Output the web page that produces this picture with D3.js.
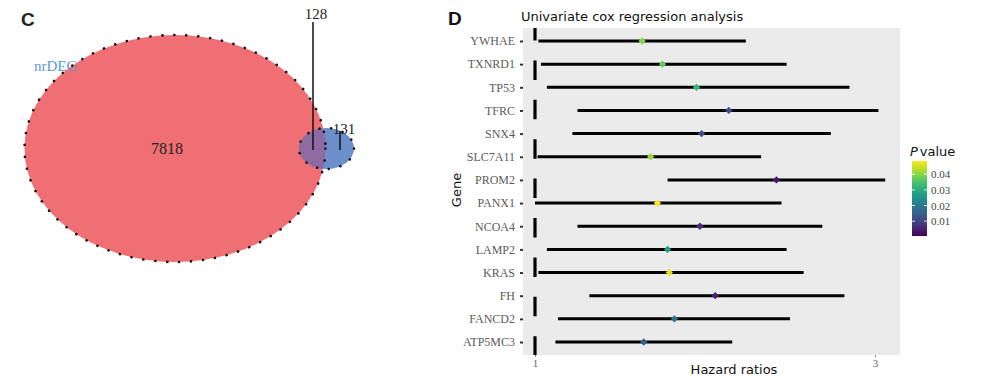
<!DOCTYPE html>
<html><head><meta charset="utf-8">
<script src="https://cdn.jsdelivr.net/npm/d3@7"></script>
<style>body{margin:0;background:#fff;} svg{display:block;}</style>
</head><body>
<svg id="c" width="994" height="387"></svg>
<script>
// ---------- data ----------
const genes = ["YWHAE","TXNRD1","TP53","TFRC","SNX4","SLC7A11","PROM2","PANX1","NCOA4","LAMP2","KRAS","FH","FANCD2","ATP5MC3"];
const hr    = [1.63,1.75,1.95,2.14,1.98,1.68,2.42,1.72,1.97,1.78,1.79,2.06,1.82,1.64];
const lower = [1.02,1.035,1.07,1.25,1.22,1.015,1.78,1.0,1.25,1.07,1.02,1.32,1.135,1.12];
const upper = [2.24,2.48,2.85,3.02,2.74,2.33,3.06,2.45,2.69,2.48,2.58,2.82,2.5,2.16];
const pval  = [0.040,0.037,0.032,0.012,0.012,0.041,0.003,0.048,0.007,0.027,0.046,0.005,0.019,0.015];
const xTicks = [1,3];
const legendTicks = [0.01,0.02,0.03,0.04];
const vennCounts = {left:7818, inter:128, right:131};
const vennLabel = "nrDEG";

const svg = d3.select("#c");
const serif = "'Liberation Serif','Times New Roman',serif";
const sans = "'DejaVu Sans',sans-serif";

// ---------- Panel C: Venn ----------
svg.append("text").attr("x",21).attr("y",26).attr("font-family","'Liberation Sans',Arial,sans-serif")
  .attr("font-weight","bold").attr("font-size",19).attr("fill","#222").text("C");

const big = {cx:175, cy:148.5, rx:150.5, ry:113.5};
const small = {cx:326.5, cy:148.5, rx:27.5, ry:20.5};
const defs = svg.append("defs");
defs.append("clipPath").attr("id","bigclip").append("ellipse")
  .attr("cx",big.cx).attr("cy",big.cy).attr("rx",big.rx).attr("ry",big.ry);

svg.append("ellipse").attr("cx",big.cx).attr("cy",big.cy).attr("rx",big.rx).attr("ry",big.ry).attr("fill","#ef6f75");
svg.append("ellipse").attr("cx",small.cx).attr("cy",small.cy).attr("rx",small.rx).attr("ry",small.ry).attr("fill","#6b8fcb");
svg.append("ellipse").attr("cx",small.cx).attr("cy",small.cy).attr("rx",small.rx).attr("ry",small.ry)
  .attr("fill","#8d6a9f").attr("clip-path","url(#bigclip)");
[big, small].forEach(e=>{
  svg.append("ellipse").attr("cx",e.cx).attr("cy",e.cy).attr("rx",e.rx).attr("ry",e.ry)
    .attr("fill","none").attr("stroke","#111").attr("stroke-width",2.6)
    .attr("stroke-linecap","round").attr("stroke-dasharray", e===big ? "0.1 11.9" : "0.1 11.7");
});
svg.append("text").attr("x",34).attr("y",71).attr("font-family",serif).attr("font-size",15)
  .attr("fill","#5b9bd5").text(vennLabel);
svg.append("text").attr("x",167).attr("y",154).attr("text-anchor","middle").attr("font-family",serif)
  .attr("font-size",16).attr("fill","#222").text(vennCounts.left);
// leader lines
svg.append("line").attr("x1",313).attr("x2",313).attr("y1",22).attr("y2",150).attr("stroke","#111").attr("stroke-width",1.5);
svg.append("text").attr("x",316).attr("y",19).attr("text-anchor","middle").attr("font-family",serif)
  .attr("font-size",15).attr("fill","#222").text(vennCounts.inter);
svg.append("line").attr("x1",340).attr("x2",340).attr("y1",131).attr("y2",150).attr("stroke","#111").attr("stroke-width",1.5);
svg.append("text").attr("x",344).attr("y",134).attr("text-anchor","middle").attr("font-family",serif)
  .attr("font-size",15).attr("fill","#222").text(vennCounts.right);

// ---------- Panel D: forest plot ----------
svg.append("text").attr("x",448).attr("y",25).attr("font-family","'Liberation Sans',Arial,sans-serif")
  .attr("font-weight","bold").attr("font-size",19).attr("fill","#111").text("D");
svg.append("text").attr("x",521).attr("y",21).attr("font-family",sans).attr("font-size",13)
  .attr("fill","#111").text("Univariate cox regression analysis");

const panel = {left:523, right:900, top:28, bottom:355};
const x = d3.scaleLinear().domain([1,3]).range([535,875]);
const y = d3.scalePoint().domain(genes).range([41,342]);
svg.append("rect").attr("x",panel.left).attr("y",panel.top).attr("width",panel.right-panel.left)
  .attr("height",panel.bottom-panel.top).attr("fill","#ebebeb");

// reference line
svg.append("line").attr("x1",x(1)).attr("x2",x(1)).attr("y1",panel.top).attr("y2",panel.bottom)
  .attr("stroke","#000").attr("stroke-width",3.2).attr("stroke-dasharray","19.5 19.9").attr("stroke-dashoffset",7);

const color = d3.scaleSequential(d3.interpolateViridis).domain([0.0005,0.0485]);
const rows = genes.map((g,i)=>({g, hr:hr[i], lo:lower[i], hi:upper[i], p:pval[i]}));
svg.append("g").selectAll("line").data(rows).join("line")
  .attr("x1",d=>x(d.lo)).attr("x2",d=>x(d.hi)).attr("y1",d=>y(d.g)).attr("y2",d=>y(d.g))
  .attr("stroke","#000").attr("stroke-width",3);
svg.append("g").selectAll("path").data(rows).join("path")
  .attr("transform",d=>`translate(${x(d.hr)},${y(d.g)})`)
  .attr("d",d3.symbol(d3.symbolDiamond2,34)).attr("fill",d=>color(d.p));

// y axis
const yAxis = svg.append("g").attr("transform",`translate(${panel.left},0)`)
  .call(d3.axisLeft(y).tickSize(3).tickPadding(5));
yAxis.select(".domain").remove();
yAxis.selectAll(".tick line").attr("stroke","#333").attr("stroke-width",2);
yAxis.selectAll("text").attr("font-family",serif).attr("font-size",12).attr("fill","#5a5a5a");
svg.append("text").attr("transform","translate(461,190) rotate(-90)").attr("text-anchor","middle")
  .attr("font-family",sans).attr("font-size",13).attr("fill","#111").text("Gene");

// x axis
const xAxis = svg.append("g").attr("transform",`translate(0,${panel.bottom})`)
  .call(d3.axisBottom(x).tickValues(xTicks).tickFormat(d3.format("d")).tickSize(2).tickPadding(2));
xAxis.select(".domain").remove();
xAxis.selectAll(".tick line").attr("stroke","#888");
xAxis.selectAll("text").attr("font-family",serif).attr("font-size",11).attr("fill","#666");
svg.append("text").attr("x",734).attr("y",374).attr("text-anchor","middle").attr("font-family",sans)
  .attr("font-size",13).attr("fill","#111").text("Hazard ratios");

// legend
const lg = {x:912, w:15, top:161, bottom:236};
const lgScale = d3.scaleLinear().domain(color.domain()).range([lg.bottom, lg.top]);
const grad = defs.append("linearGradient").attr("id","vir").attr("x1",0).attr("x2",0).attr("y1",1).attr("y2",0);
d3.range(0,1.0001,0.1).forEach(t=>grad.append("stop").attr("offset",t).attr("stop-color",d3.interpolateViridis(t)));
svg.append("rect").attr("x",lg.x).attr("y",lg.top).attr("width",lg.w).attr("height",lg.bottom-lg.top).attr("fill","url(#vir)");
const lt = svg.append("text").attr("x",910).attr("y",156).attr("font-family",sans).attr("font-size",13).attr("fill","#111");
lt.append("tspan").attr("font-style","italic").text("P");
lt.append("tspan").attr("dx",2).text("value");
legendTicks.forEach(v=>{
  const yy = lgScale(v);
  svg.append("line").attr("x1",lg.x).attr("x2",lg.x+3).attr("y1",yy).attr("y2",yy).attr("stroke","#fff").attr("stroke-width",0.8);
  svg.append("line").attr("x1",lg.x+lg.w-3).attr("x2",lg.x+lg.w).attr("y1",yy).attr("y2",yy).attr("stroke","#fff").attr("stroke-width",0.8);
  svg.append("text").attr("x",lg.x+lg.w+4).attr("y",yy+4).attr("font-family",serif).attr("font-size",11)
    .attr("fill","#444").text(d3.format(".2f")(v));
});
</script>
</body></html>
